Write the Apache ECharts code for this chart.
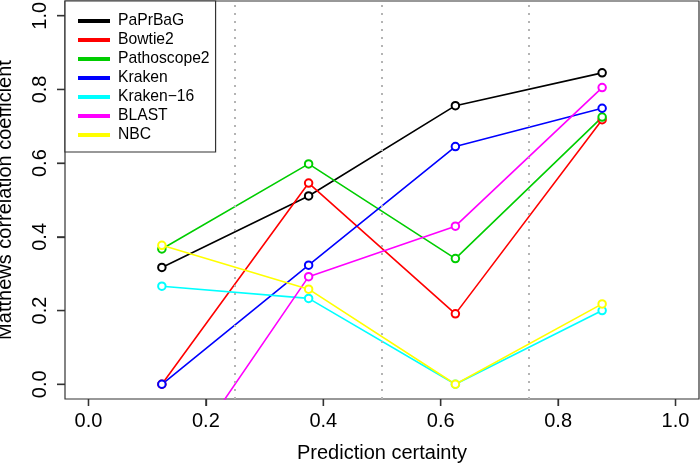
<!DOCTYPE html>
<html>
<head>
<meta charset="utf-8">
<script src="https://cdn.jsdelivr.net/npm/echarts@6/dist/echarts.min.js"></script>
<style>
html,body{margin:0;padding:0;background:#fff;}
#chart{width:700px;height:463px;}
</style>
</head>
<body>
<div id="chart"></div>
<script>
var certainty = [0.125, 0.375, 0.625, 0.875];
var seriesNames = ['PaPrBaG', 'Bowtie2', 'Pathoscope2', 'Kraken', 'Kraken\u221216', 'BLAST', 'NBC'];
var paprbag     = [0.317, 0.511, 0.756, 0.845];
var bowtie2     = [0.000, 0.546, 0.191, 0.718];
var pathoscope2 = [0.367, 0.598, 0.341, 0.725];
var kraken      = [0.000, 0.323, 0.645, 0.749];
var kraken16    = [0.266, 0.233, 0.000, 0.200];
var blast       = [-0.29, 0.292, 0.429, 0.805];
var nbc         = [0.377, 0.258, 0.000, 0.218];
var thresholds  = [0.25, 0.5, 0.75];
var xTicks = [0, 0.2, 0.4, 0.6, 0.8, 1.0];
var yTicks = [0, 0.2, 0.4, 0.6, 0.8, 1.0];

var values = [paprbag, bowtie2, pathoscope2, kraken, kraken16, blast, nbc];
var colors = ['#000000', '#ff0000', '#00cd00', '#0000ff', '#00ffff', '#ff00ff', '#ffff00'];
var FONT = 'Liberation Sans, Arial, Helvetica, sans-serif';
var X_MIN = -0.04, X_MAX = 1.04, Y_MIN = -0.04, Y_MAX = 1.04;

var series = values.map(function (vals, i) {
  var s = {
    name: seriesNames[i],
    type: 'line',
    data: certainty.map(function (x, j) { return [x, vals[j]]; }),
    symbol: 'emptyCircle',
    symbolSize: 7.5,
    showAllSymbol: true,
    clip: true,
    lineStyle: { color: colors[i], width: 1.6 },
    itemStyle: { color: colors[i], borderWidth: 1.8, borderColor: colors[i] },
    emphasis: { disabled: true },
    animation: false
  };
  if (i === 0) {
    s.markLine = {
      silent: true,
      symbol: ['none', 'none'],
      label: { show: false },
      lineStyle: { color: '#b4b4b4', type: [2, 6], width: 2 },
      data: thresholds.map(function (t) { return { xAxis: t }; }),
      animation: false
    };
  }
  return s;
});

// outward tick marks, positioned through the library's own coordinate system
series.push({
  type: 'custom',
  silent: true,
  clip: false,
  zlevel: 1,
  z: 100,
  data: xTicks.map(function (v) { return [v, Y_MIN]; }),
  renderItem: function (params, api) {
    var p = api.coord([api.value(0), api.value(1)]);
    return { type: 'line', shape: { x1: p[0], y1: p[1], x2: p[0], y2: p[1] + 7 },
             style: { stroke: '#333333', lineWidth: 1.3 } };
  },
  animation: false
});
series.push({
  type: 'custom',
  silent: true,
  clip: false,
  zlevel: 1,
  z: 100,
  data: yTicks.map(function (v) { return [X_MIN, v]; }),
  renderItem: function (params, api) {
    var p = api.coord([api.value(0), api.value(1)]);
    return { type: 'line', shape: { x1: p[0], y1: p[1], x2: p[0] - 8, y2: p[1] },
             style: { stroke: '#333333', lineWidth: 1.3 } };
  },
  animation: false
});

var chart = echarts.init(document.getElementById('chart'), null, { renderer: 'canvas' });
chart.setOption({
  backgroundColor: '#ffffff',
  animation: false,
  grid: {
    left: 65, right: 1, top: 1, bottom: 64,
    containLabel: false,
    outerBoundsMode: 'none',
    show: true, borderColor: '#333333', borderWidth: 1.2, backgroundColor: 'transparent'
  },
  legend: {
    orient: 'vertical',
    left: 65, top: 1,
    padding: [12, 6, 9, 13],
    itemGap: 3,
    itemWidth: 30,
    itemHeight: 2,
    icon: 'rect',
    borderColor: '#333333',
    borderWidth: 1.2,
    backgroundColor: '#ffffff',
    textStyle: { fontFamily: FONT, fontSize: 15.7, color: '#000', padding: [0, 0, 0, 4], lineHeight: 15 },
    selectedMode: false,
    data: seriesNames
  },
  xAxis: {
    type: 'value',
    min: X_MIN, max: X_MAX,
    position: 'bottom',
    name: 'Prediction certainty',
    nameLocation: 'middle',
    nameGap: 44,
    nameTextStyle: { fontFamily: FONT, fontSize: 20, color: '#000' },
    axisLine: { show: false, onZero: false },
    axisTick: { show: true, inside: false, customValues: xTicks, length: 7, lineStyle: { color: '#333333', width: 1.3 } },
    axisLabel: {
      customValues: xTicks, margin: 12,
      fontFamily: FONT, fontSize: 20, color: '#000',
      formatter: function (v) { return v.toFixed(1); }
    },
    splitLine: { show: false }
  },
  yAxis: {
    type: 'value',
    min: Y_MIN, max: Y_MAX,
    position: 'left',
    name: 'Matthews correlation coefficient',
    nameLocation: 'middle',
    nameGap: 50,
    nameTextStyle: { fontFamily: FONT, fontSize: 20, color: '#000' },
    axisLine: { show: false, onZero: false },
    axisTick: { show: true, inside: false, customValues: yTicks, length: 8, lineStyle: { color: '#333333', width: 1.3 } },
    axisLabel: {
      customValues: yTicks, rotate: 90, margin: 15,
      fontFamily: FONT, fontSize: 20, color: '#000',
      formatter: function (v) { return v.toFixed(1); }
    },
    splitLine: { show: false }
  },
  series: series
});
</script>
</body>
</html>
